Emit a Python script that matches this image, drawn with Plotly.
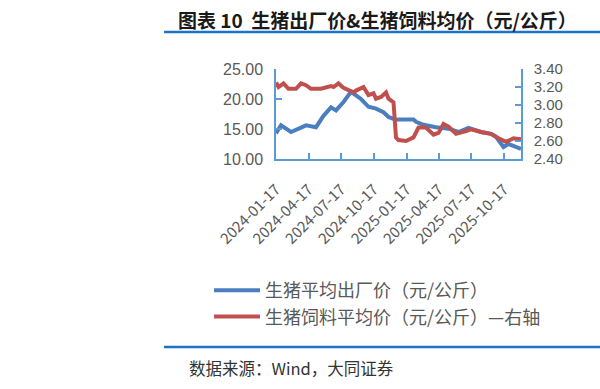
import plotly.graph_objects as go

# ---- data ----
hog_dates = ["2024-01-17", "2024-01-31", "2024-02-28", "2024-04-10", "2024-05-08", "2024-05-29",
             "2024-06-19", "2024-07-03", "2024-07-24", "2024-07-31", "2024-08-14", "2024-08-28",
             "2024-09-11", "2024-10-02", "2024-10-23", "2024-11-13", "2024-11-27", "2024-12-11",
             "2024-12-18", "2024-12-25", "2025-02-05", "2025-02-12", "2025-03-05", "2025-04-09",
             "2025-05-14", "2025-06-11", "2025-07-09", "2025-08-13", "2025-09-10", "2025-09-24",
             "2025-10-15", "2025-10-29", "2025-11-19", "2025-12-03"]
hog_price = [14.3, 15.6, 14.5, 15.6, 15.3, 17.2,
             18.6, 18.1, 19.5, 20.0, 21.2, 20.6,
             20.0, 18.7, 18.4, 17.8, 17.0, 16.7,
             16.5, 16.6, 16.6, 16.2, 15.7, 15.3,
             15.05, 14.5, 15.2, 14.5, 14.2, 13.7,
             12.0, 12.5, 12.0, 11.7]

feed_dates = ["2024-01-17", "2024-01-24", "2024-02-07", "2024-02-21", "2024-03-13", "2024-03-27",
              "2024-04-10", "2024-04-24", "2024-05-22", "2024-06-19", "2024-06-26", "2024-07-10",
              "2024-07-24", "2024-08-07", "2024-08-21", "2024-08-28", "2024-09-18", "2024-10-02",
              "2024-10-16", "2024-10-23", "2024-11-06", "2024-11-20", "2024-11-27", "2024-12-11",
              "2024-12-18", "2024-12-25", "2025-01-15", "2025-02-05", "2025-02-19", "2025-03-12",
              "2025-04-02", "2025-04-16", "2025-04-30", "2025-05-14", "2025-06-04", "2025-07-02",
              "2025-07-16", "2025-08-13", "2025-09-10", "2025-10-01", "2025-10-22", "2025-11-12",
              "2025-12-03"]
feed_price = [3.25, 3.20, 3.24, 3.18, 3.18, 3.24,
              3.22, 3.18, 3.18, 3.21, 3.20, 3.24,
              3.19, 3.16, 3.14, 3.16, 3.20, 3.11,
              3.13, 3.07, 3.09, 3.14, 3.07, 3.03,
              2.64, 2.61, 2.60, 2.64, 2.75, 2.75,
              2.67, 2.69, 2.79, 2.76, 2.68, 2.71,
              2.73, 2.70, 2.68, 2.63, 2.59, 2.63,
              2.62]

x_tick_vals = ["2024-01-17", "2024-04-17", "2024-07-17", "2024-10-17",
               "2025-01-17", "2025-04-17", "2025-07-17", "2025-10-17"]
x_tick_text = x_tick_vals

title_text = "图表 10  生猪出厂价&生猪饲料均价（元/公斤）"
series1_name = "生猪平均出厂价（元/公斤）"
series2_name = "生猪饲料平均价（元/公斤）—右轴"
source_text = "数据来源：Wind，大同证券"

# ---- layout geometry (pixels) ----
W, H = 600, 389
L, R, T, B = 276, 521, 69, 159


def px(x):
    return (x - L) / (R - L)


def py(y):
    return (B - y) / (B - T)


FONT = "Noto Sans CJK SC"
NUM_FONT = "Liberation Sans, Arial, sans-serif"
AXIS_BLUE = "#5b9bd5"
GRAY = "#595959"

fig = go.Figure()
fig.add_trace(go.Scatter(x=hog_dates, y=hog_price, name=series1_name, mode="lines",
                         line=dict(color="#4a7ebf", width=4), yaxis="y"))
fig.add_trace(go.Scatter(x=feed_dates, y=feed_price, name=series2_name, mode="lines",
                         line=dict(color="#c0504d", width=4), yaxis="y2"))

fig.update_layout(
    width=W, height=H,
    paper_bgcolor="white", plot_bgcolor="white",
    margin=dict(l=L, r=W - R, t=T, b=H - B, autoexpand=False),
    font=dict(family=FONT, color=GRAY),
    showlegend=True,
    legend=dict(x=px(209), y=py(272), xanchor="left", yanchor="top",
                font=dict(size=18, color=GRAY, family=FONT),
                bgcolor="rgba(0,0,0,0)", itemwidth=46, tracegroupgap=0),
    xaxis=dict(type="date", range=["2024-01-17", "2025-12-03"],
               tickvals=x_tick_vals, ticktext=x_tick_text, tickangle=-45,
               showgrid=False, zeroline=False, showline=True, linecolor=AXIS_BLUE, linewidth=1.5,
               ticks="inside", ticklen=6, tickcolor=AXIS_BLUE, tickwidth=1.5,
               tickfont=dict(size=15, color=GRAY, family=FONT), ticklabelstandoff=14),
    yaxis=dict(range=[10, 25], dtick=5, tickformat=".2f",
               showgrid=False, zeroline=False, showline=True, linecolor=AXIS_BLUE, linewidth=1.5,
               ticks="inside", ticklen=6, tickcolor=AXIS_BLUE, tickwidth=1.5,
               tickfont=dict(size=16, color=GRAY, family=NUM_FONT), ticklabelstandoff=8),
    yaxis2=dict(range=[2.4, 3.4], dtick=0.2, tickformat=".2f", overlaying="y", side="right",
                showgrid=False, zeroline=False, showline=True, linecolor=AXIS_BLUE, linewidth=1.5,
                ticks="inside", ticklen=6, tickcolor=AXIS_BLUE, tickwidth=1.5,
                tickfont=dict(size=15, color=GRAY, family=NUM_FONT), ticklabelstandoff=8),
)

fig.add_annotation(text="<b>" + title_text + "</b>", xref="paper", yref="paper",
                   x=px(176), y=py(19), xanchor="left", yanchor="middle", showarrow=False,
                   font=dict(size=19, color="#1a1a1a", family=FONT))
fig.add_annotation(text=source_text, xref="paper", yref="paper",
                   x=px(187), y=py(368), xanchor="left", yanchor="middle", showarrow=False,
                   font=dict(size=16.5, color="#333333", family=FONT))

fig.add_shape(type="line", xref="paper", yref="paper", x0=px(164), x1=px(600), y0=py(32), y1=py(32),
              line=dict(color="#1f72c4", width=2.5))
fig.add_shape(type="line", xref="paper", yref="paper", x0=px(164), x1=px(600), y0=py(347), y1=py(347),
              line=dict(color="#1f72c4", width=2.5))

# remove the browser's default 8px page margin so the figure sits at the window's corner
fig.write_html("out.html", config={"displayModeBar": False},
               post_script="document.body.style.margin='0';")
